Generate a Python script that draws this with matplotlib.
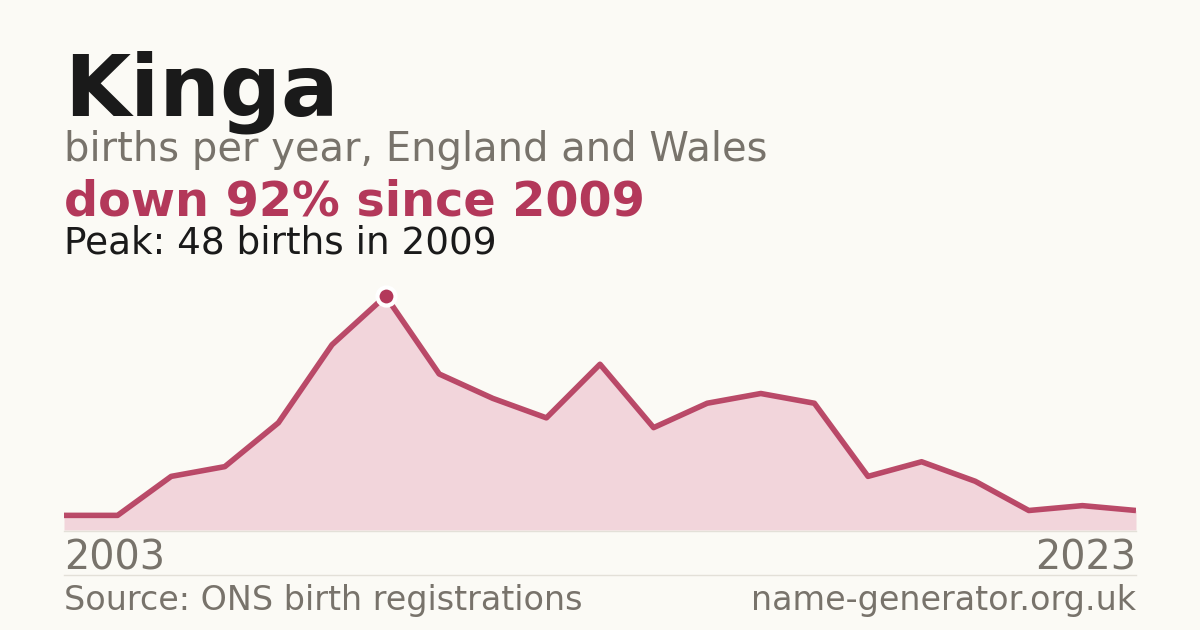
import numpy as np
import matplotlib.pyplot as plt
from matplotlib.lines import Line2D

# Data
years = list(range(2003, 2024))
births = [3, 3, 11, 13, 22, 38, 48, 32, 27, 23, 34, 21, 26, 28, 26, 11, 14, 10, 4, 5, 4]

name = "Kinga"
subtitle = "births per year, England and Wales"
source = "Source: ONS birth registrations"
site = "name-generator.org.uk"

BG = "#fbfaf5"
RED = "#b3385a"
FILL = "#f2d5db"
GREY = "#78736b"
RULE = "#e3e0d8"

W, H = 1200, 630


def fy(py):
    """Pixel row (from top) to figure fraction."""
    return 1 - py / H


fig = plt.figure(figsize=(W / 100, H / 100), dpi=100, facecolor=BG)

# Chart area
ax = fig.add_axes([64 / W, fy(530), 1072 / W, 250 / H])
ax.set_facecolor(BG)
peak_i = int(np.argmax(births))
peak_year, peak_val = years[peak_i], births[peak_i]
latest = births[-1]
drop = round((peak_val - latest) / peak_val * 100)

ax.fill_between(years, births, 0, color=FILL, linewidth=0)
ax.plot(years, births, color=RED, linewidth=4, solid_joinstyle='round',
        solid_capstyle='butt', alpha=0.9)
ax.plot([peak_year], [peak_val], 'o', markersize=13, markerfacecolor=RED,
        markeredgecolor='white', markeredgewidth=3, clip_on=False, zorder=5)
ax.set_xlim(years[0], years[-1])
ax.set_ylim(0, peak_val * 250 / 234)
ax.axis('off')

# Rules
fig.add_artist(Line2D([64 / W, 1136 / W], [fy(530.5), fy(530.5)], color=RULE, linewidth=1))
fig.add_artist(Line2D([64 / W, 1136 / W], [fy(574.5), fy(574.5)], color=RULE, linewidth=1))

# Header
fig.text(64 / W, fy(115), name, fontsize=61.5, fontweight='bold', color="#1a1a1a", va='baseline')
fig.text(64 / W, fy(161), subtitle, fontsize=28.8, color=GREY, va='baseline')
fig.text(64 / W, fy(215), f"down {drop}% since {peak_year}", fontsize=34.4,
         fontweight='bold', color=RED, va='baseline')
fig.text(64 / W, fy(253), f"Peak: {peak_val} births in {peak_year}", fontsize=26.9,
         color="#1a1a1a", va='baseline')

# Axis labels and footer
fig.text(64 / W, fy(569), str(years[0]), fontsize=28.6, color=GREY, va='baseline')
fig.text(1136 / W, fy(569), str(years[-1]), fontsize=28.6, color=GREY, va='baseline', ha='right')
fig.text(64 / W, fy(610), source, fontsize=24, color=GREY, va='baseline')
fig.text(1136 / W, fy(610), site, fontsize=24, color=GREY, va='baseline', ha='right')

fig.savefig("out.png", dpi=100, facecolor=BG)
